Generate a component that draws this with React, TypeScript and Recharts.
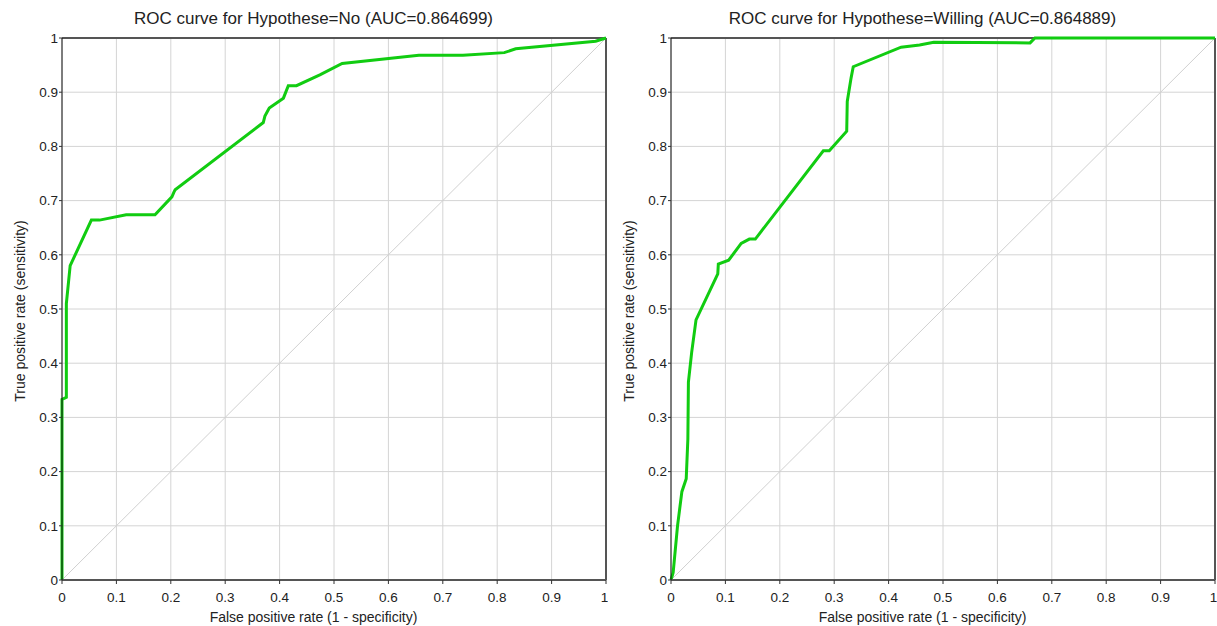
import { LineChart, Line, XAxis, YAxis, CartesianGrid, ReferenceLine } from "recharts";

// ROC points: false positive rate / true positive rate
const noFpr = [0, 0, 0.008, 0.008, 0.015, 0.054, 0.069, 0.118, 0.171, 0.202, 0.206, 0.208, 0.37, 0.373, 0.381, 0.407, 0.416, 0.431, 0.474, 0.515, 0.656, 0.737, 0.813, 0.834, 0.981, 1];
const noTpr = [0, 0.333, 0.337, 0.51, 0.58, 0.664, 0.664, 0.674, 0.674, 0.707, 0.716, 0.72, 0.844, 0.856, 0.871, 0.889, 0.912, 0.912, 0.932, 0.953, 0.968, 0.968, 0.973, 0.98, 0.994, 1];

const willingFpr = [0, 0.004, 0.012, 0.02, 0.028, 0.031, 0.032, 0.038, 0.046, 0.086, 0.087, 0.106, 0.129, 0.144, 0.155, 0.28, 0.291, 0.323, 0.324, 0.331, 0.335, 0.423, 0.457, 0.483, 0.66, 0.669, 1];
const willingTpr = [0, 0.014, 0.1, 0.163, 0.187, 0.26, 0.365, 0.42, 0.48, 0.565, 0.583, 0.59, 0.621, 0.629, 0.629, 0.792, 0.792, 0.828, 0.883, 0.926, 0.947, 0.983, 0.987, 0.992, 0.991, 1, 1];

const ticks = [0, 0.1, 0.2, 0.3, 0.4, 0.5, 0.6, 0.7, 0.8, 0.9, 1];

const FONT = "'Liberation Sans', Arial, sans-serif";

function RocPanel({ left, title, fpr, tpr }: { left: number; title: string; fpr: number[]; tpr: number[] }) {
  const data = fpr.map((x, i) => ({ fpr: x, tpr: tpr[i] }));
  return (
    <div style={{ position: "absolute", left, top: 0, width: 608, height: 626 }}>
      <div style={{ position: "absolute", left: 0, width: 627, top: 9, textAlign: "center", fontSize: 17, fontFamily: FONT, color: "#222" }}>
        {title}
      </div>
      <div style={{ position: "absolute", left: 0, width: 627, top: 609, textAlign: "center", fontSize: 14, fontFamily: FONT, color: "#222" }}>
        False positive rate (1 - specificity)
      </div>
      <div
        style={{
          position: "absolute",
          left: 20,
          top: 311,
          transform: "translate(-50%, -50%) rotate(-90deg)",
          whiteSpace: "nowrap",
          fontSize: 14,
          fontFamily: FONT,
          color: "#222",
        }}
      >
        True positive rate (sensitivity)
      </div>
      <LineChart width={608} height={626} data={data} margin={{ top: 38, right: 2, bottom: 16, left: 0 }}>
        <CartesianGrid stroke="#d4d4d4" strokeWidth={1} horizontalValues={ticks} verticalValues={ticks} />
        <XAxis
          type="number"
          dataKey="fpr"
          domain={[0, 1]}
          ticks={ticks}
          height={30}
          tickSize={4}
          tickMargin={8}
          stroke="#555"
          axisLine={{ stroke: "#555", strokeWidth: 2 }}
          tickLine={{ stroke: "#333" }}
          tick={{ fontSize: 13.5, fill: "#222", fontFamily: FONT }}
        />
        <YAxis
          type="number"
          domain={[0, 1]}
          ticks={ticks}
          width={62}
          tickSize={3}
          tickMargin={1}
          axisLine={{ stroke: "#111", strokeWidth: 1 }}
          tickLine={{ stroke: "#333" }}
          tick={{ fontSize: 13.5, fill: "#222", fontFamily: FONT }}
        />
        <ReferenceLine y={1} stroke="#555" strokeWidth={2} />
        <ReferenceLine x={1} stroke="#555" strokeWidth={2} />
        <ReferenceLine segment={[{ x: 0, y: 0 }, { x: 1, y: 1 }]} stroke="#d0d0d0" strokeWidth={1} />
        <Line
          type="linear"
          dataKey="tpr"
          stroke="#11cc11"
          strokeWidth={3}
          dot={false}
          activeDot={false}
          isAnimationActive={false}
        />
      </LineChart>
    </div>
  );
}

export default function App() {
  return (
    <div style={{ position: "absolute", left: 0, top: 0, width: 1217, height: 626, background: "#fff" }}>
      <RocPanel left={0} title="ROC curve for Hypothese=No (AUC=0.864699)" fpr={noFpr} tpr={noTpr} />
      <RocPanel left={609} title="ROC curve for Hypothese=Willing (AUC=0.864889)" fpr={willingFpr} tpr={willingTpr} />
    </div>
  );
}
